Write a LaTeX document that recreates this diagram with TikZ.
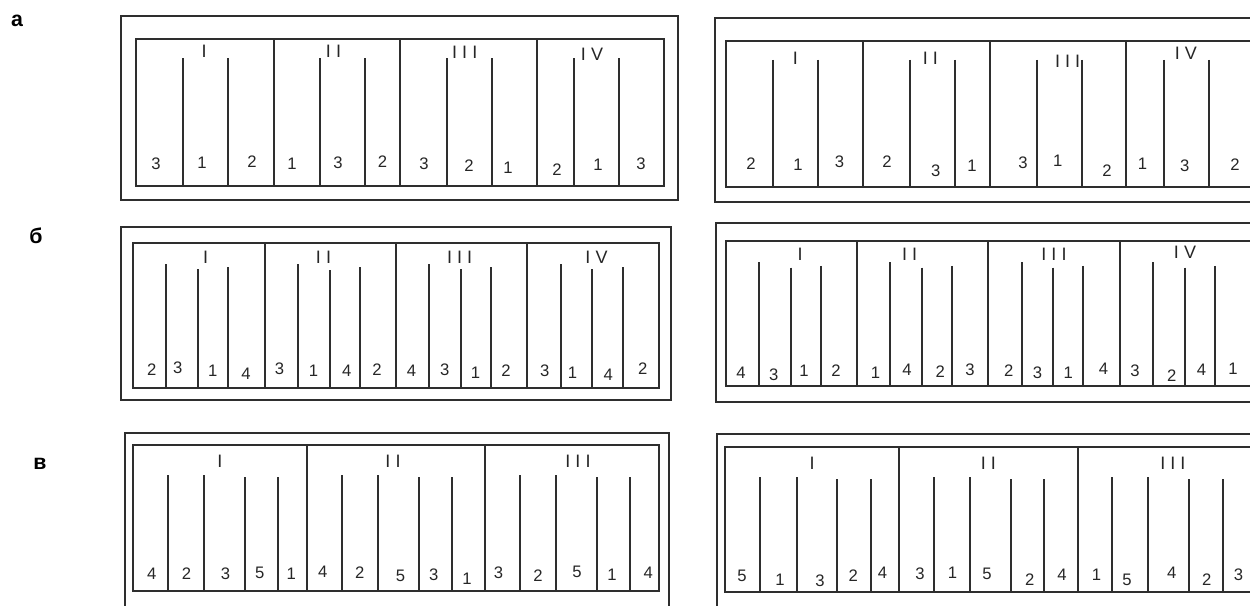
\documentclass[tikz,border=0pt]{standalone}
\usepackage{fontspec}
\setmainfont{Liberation Sans}
\newfontfamily\romanfont[LetterSpace=28]{Liberation Sans}
\tikzset{
  frame/.style={draw=black!82, line width=1.5pt},
  bar/.style={draw=black!82, line width=1.5pt},
  digit/.style={font=\fontsize{12.5}{12.5}\selectfont, text=black!85, inner sep=0pt},
  roman/.style={font=\fontsize{13.5}{13.5}\romanfont\selectfont, text=black!85, inner sep=0pt},
  rowlabel/.style={font=\fontsize{16}{16}\selectfont\bfseries, inner sep=0pt}
}
\begin{document}
\begin{tikzpicture}[x=0.75pt,y=-0.75pt]
\useasboundingbox (0,0) rectangle (1250,606);
\clip (0,0) rectangle (1250,606);
\fill[white] (0,0) rectangle (1250,606);

% row labels
\node[rowlabel] (la) at (17,21) {а};
\node[rowlabel] (lb) at (36,236) {б};
\node[rowlabel] (lc) at (40,464) {в};

% ---------- row a, left ----------
\draw[frame] (121,16) rectangle (678,200);
\draw[frame] (136,39) rectangle (664,186);
\foreach \x in {274,400,537} \draw[bar] (\x,39) -- (\x,186);
\foreach \x in {183,228,320,365,447,492,574,619} \draw[bar] (\x,58.5) -- (\x,186);
\foreach \x/\y/\t [count=\i] in {204/51/I,333.5/51/II,464.7/52/III,592/54/IV}
  \node[roman] (aLr\i) at (\x,\y) {\t};
\foreach \x/\y/\t [count=\i] in {156/163.5/3,202/162.8/1,252/161.2/2,292/163.5/1,338/162.8/3,382.6/161.2/2,424/163.5/3,469/165.5/2,508/167.8/1,557/169.5/2,598/164.5/1,641/163.5/3}
  \node[digit] (aLd\i) at (\x,\y) {\t};

% ---------- row a, right ----------
\draw[frame] (715,18) rectangle (1280,202);
\draw[frame] (726,41) rectangle (1270,187);
\foreach \x in {863,990,1126} \draw[bar] (\x,41) -- (\x,187);
\foreach \x in {773,818,910,955,1037,1082,1164,1209} \draw[bar] (\x,60) -- (\x,187);
\foreach \x/\y/\t [count=\i] in {795.4/58/I,930.4/58/II,1067.6/61/III,1185.8/53/IV}
  \node[roman] (aRr\i) at (\x,\y) {\t};
\foreach \x/\y/\t [count=\i] in {751/163.5/2,798/164.5/1,839.6/162.2/3,887/161.2/2,935.7/171.1/3,972/165.5/1,1023/162.8/3,1057.8/161.2/1,1107/171.1/2,1142.6/163.5/1,1184.7/166.1/3,1235/164.5/2}
  \node[digit] (aRd\i) at (\x,\y) {\t};

% ---------- row b, left ----------
\draw[frame] (121,227.5) rectangle (671,400);
\draw[frame] (133,243) rectangle (659,388);
\foreach \x in {265,396,527} \draw[bar] (\x,243) -- (\x,388);
\foreach \x/\t in {166/264,198/269,228/267,298/264,330/270,360/267,429/264,461/269,491/267,561/264,592/269,623/267}
  \draw[bar] (\x,\t) -- (\x,388);
\foreach \x/\y/\t [count=\i] in {205.5/257.5/I,323.5/257.5/II,459.6/257.5/III,596.5/257.5/IV}
  \node[roman] (bLr\i) at (\x,\y) {\t};
\foreach \x/\y/\t [count=\i] in {151.8/369.5/2,177.7/367.8/3,212.8/371/1,246/373.5/4,279.4/368.8/3,313.5/371/1,346.8/371/4,377/369.5/2,411.5/371/4,444.8/370/3,475.5/372.8/1,505.9/371/2,544.7/371/3,572.5/372.8/1,608.3/374.5/4,642.7/368.8/2}
  \node[digit] (bLd\i) at (\x,\y) {\t};

% ---------- row b, right ----------
\draw[frame] (716,223) rectangle (1280,402);
\draw[frame] (726,241) rectangle (1270,386);
\foreach \x in {857,988,1120} \draw[bar] (\x,241) -- (\x,386);
\foreach \x/\t in {759/262.5,791/267.5,821/265.8,890/262.5,922/267.5,952/265.8,1022/262.5,1053/267.5,1083/265.8,1153/262.5,1185/267.5,1215/265.8}
  \draw[bar] (\x,\t) -- (\x,386);
\foreach \x/\y/\t [count=\i] in {800/254.5/I,909.7/254.5/II,1054/254.5/III,1185/252/IV}
  \node[roman] (bRr\i) at (\x,\y) {\t};
\foreach \x/\y/\t [count=\i] in {741/372.8/4,773.7/374.5/3,804/371/1,836/371/2,875.4/372.8/1,907/369.5/4,940.3/372/2,970/369.5/3,1008.7/371/2,1037.4/372.8/3,1068.3/372.8/1,1103.4/368.8/4,1135/371/3,1171.8/376/2,1201.6/370/4,1233/368.8/1}
  \node[digit] (bRd\i) at (\x,\y) {\t};

% ---------- row c, left ----------
\draw[frame] (125,432.6) rectangle (669,640);
\draw[frame] (133,445) rectangle (659,591);
\foreach \x in {307,485} \draw[bar] (\x,445) -- (\x,591);
\foreach \x/\t in {168/475,204/475,245/477,278/477,342/475,378/475,419/477,452/477,520/475,556/475,597/477,630/477}
  \draw[bar] (\x,\t) -- (\x,591);
\foreach \x/\y/\t [count=\i] in {219.9/461.5/I,393/461.5/II,578/461.5/III}
  \node[roman] (cLr\i) at (\x,\y) {\t};
\foreach \x/\y/\t [count=\i] in {151.8/573.5/4,186.6/573.5/2,225.4/573.5/3,259.8/572.8/5,291.3/573.5/1,322.7/571.8/4,359.7/572.8/2,400.4/575.5/5,433.7/574.5/3,467/578.8/1,498.5/572.8/3,538/576/2,576.9/572.2/5,612/574.5/1,648.3/572.8/4}
  \node[digit] (cLd\i) at (\x,\y) {\t};

% ---------- row c, right ----------
\draw[frame] (717,434) rectangle (1280,640);
\draw[frame] (725,447) rectangle (1270,592);
\foreach \x in {899,1078} \draw[bar] (\x,447) -- (\x,592);
\foreach \x/\t in {760/477,797/477,837/479,871/479,934/477,970/477,1011/479,1044/479,1112/477,1148/477,1189/479,1223/479}
  \draw[bar] (\x,\t) -- (\x,592);
\foreach \x/\y/\t [count=\i] in {812.2/463/I,988.3/463/II,1172.8/463/III}
  \node[roman] (cRr\i) at (\x,\y) {\t};
\foreach \x/\y/\t [count=\i] in {742/576/5,780/579.5/1,820/581/3,853.3/576/2,882.4/572.8/4,920/573.5/3,952.5/572.8/1,987/573.5/5,1029.7/579.5/2,1062/574.5/4,1096.4/574.5/1,1127/579.5/5,1171.8/572.8/4,1206.8/579.5/2,1238.4/574.5/3}
  \node[digit] (cRd\i) at (\x,\y) {\t};
\end{tikzpicture}
\end{document}
